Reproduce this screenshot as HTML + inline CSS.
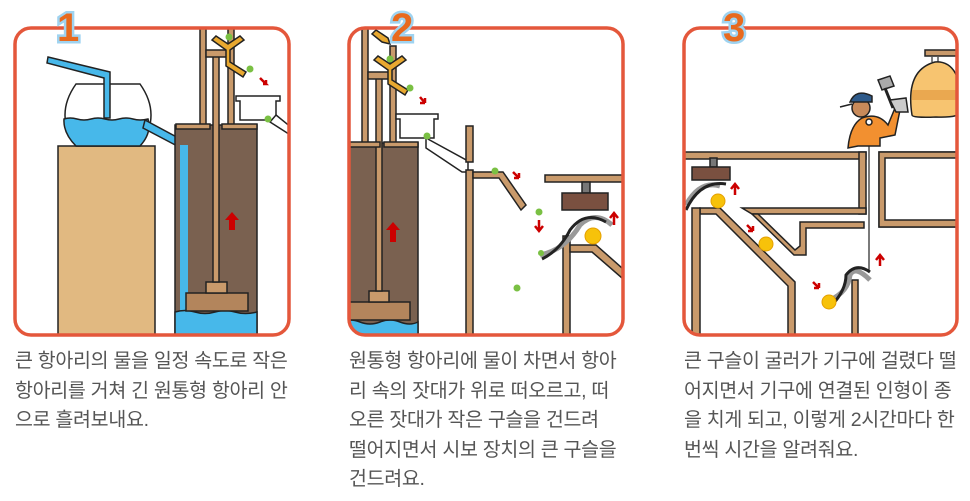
<!DOCTYPE html>
<html><head><meta charset="utf-8"><style>
body{margin:0;width:970px;height:501px;background:#fff;position:relative;overflow:hidden}
.t{position:absolute;font-family:"Liberation Sans","Noto Sans CJK KR",sans-serif;font-size:19.5px;line-height:29.5px;color:#555;white-space:nowrap;letter-spacing:-0.3px}
svg{position:absolute;left:0;top:0}
</style></head><body>
<svg width="970" height="501" viewBox="0 0 970 501">
<defs>
<clipPath id="c1"><rect x="15" y="28" width="274" height="307" rx="16"/></clipPath>
<clipPath id="c2"><rect x="349" y="28" width="274" height="307" rx="16"/></clipPath>
<clipPath id="c3"><rect x="684" y="28" width="273" height="307" rx="16"/></clipPath>
</defs>
<!-- PANEL 1 -->
<g clip-path="url(#c1)" stroke="#222" stroke-width="1.5">
 <rect x="58" y="146" width="97" height="195" fill="#e1b981"/>
 <path d="M76 84 L140 84 Q162 115 140 146 L76 146 Q54 115 76 84Z" fill="#fff"/>
 <path d="M64 119 Q70 117 77 119 Q84 121 91 119 Q98 117 105 119 Q112 121 119 119 Q126 117 133 119 Q140 121 148 119 Q152 133 140 146 L76 146 Q63 133 64 119Z" fill="#47b8ea"/>
 <path d="M48 57 L110 72 L110 118 L104 118 L104 78 L47 63Z" fill="#47b8ea"/>
 <path d="M145 120 L184 141 L181 148 L143 128Z" fill="#47b8ea"/>
 <rect x="175" y="125" width="82" height="215" fill="#7a6150"/>
 <rect x="180" y="145" width="8" height="170" fill="#47b8ea" stroke="none"/>
 <path d="M175 312 Q185 309 195 312 Q205 315 215 312 Q225 309 235 312 Q245 315 257 312 L257 340 L175 340Z" fill="#47b8ea"/>
 <rect x="186" y="293" width="62" height="18" fill="#b3855c"/>
 <rect x="206" y="282" width="21" height="11" fill="#c99a6b"/>
 <rect x="213" y="55" width="6" height="227" fill="#c99a6b"/>
 <rect x="200" y="28" width="6" height="97" fill="#c99a6b"/>
 <rect x="228" y="28" width="6" height="97" fill="#c99a6b"/>
 <rect x="206" y="50" width="22" height="7" fill="#c99a6b"/>
 <rect x="176" y="124" width="34" height="5" fill="#c99a6b"/>
 <rect x="222" y="124" width="35" height="5" fill="#c99a6b"/>
 <path d="M236 96 L280 96 L280 101 L276 101 L276 120 L240 120 L240 101 L236 101Z" fill="#fff"/>
 <path d="M276 115 L292 128 L292 136 L270 122Z" fill="#fff"/>
 <path d="M216 36 L228 44 L240 36 L244 40 L230 50 L230 62 L246 72 L243 77 L226 66 L226 50 L212 40Z" fill="#e8a830"/>
</g>
<g fill="#7ac043"><circle cx="229" cy="37" r="3.5"/><circle cx="250" cy="69" r="3.5"/><circle cx="268" cy="119" r="3.5"/></g>
<path d="M260 78 L266 84 L263 84 M266 84 L266 80" stroke="#c00" stroke-width="2.5" fill="none"/>
<path d="M232 212 L239 220 L235 220 L235 230 L229 230 L229 220 L225 220Z" fill="#c00"/>
<rect x="15" y="28" width="274" height="307" rx="16" fill="none" stroke="#e4573b" stroke-width="3.5"/>
<!-- PANEL 2 -->
<g clip-path="url(#c2)" stroke="#222" stroke-width="1.5">
 <rect x="340" y="143" width="78" height="200" fill="#7a6150"/>
 <path d="M340 322 Q350 318 360 322 Q370 326 380 322 Q390 318 400 322 Q410 326 418 322 L418 340 L340 340Z" fill="#47b8ea"/>
 <rect x="340" y="302" width="70" height="18" fill="#b3855c"/>
 <rect x="369" y="291" width="20" height="11" fill="#c99a6b"/>
 <rect x="376" y="78" width="6" height="213" fill="#c99a6b"/>
 <rect x="362" y="28" width="6" height="115" fill="#c99a6b"/>
 <rect x="390" y="46" width="6" height="97" fill="#c99a6b"/>
 <rect x="368" y="72" width="22" height="7" fill="#c99a6b"/>
 <rect x="340" y="142" width="40" height="5" fill="#c99a6b"/>
 <rect x="384" y="142" width="34" height="5" fill="#c99a6b"/>
 <path d="M396 114 L438 114 L438 119 L434 119 L434 138 L400 138 L400 119 L396 119Z" fill="#fff"/>
 <path d="M426 138 L468 161 L468 172 L462 172 L426 148Z" fill="#fff"/>
 <rect x="466" y="126" width="7" height="36" fill="#c99a6b"/>
 <rect x="466" y="170" width="7" height="170" fill="#c99a6b"/>
 <path d="M473 172 L503 172 L526 205 L521 210 L499 178 L473 178Z" fill="#c99a6b"/>
 <rect x="545" y="175" width="85" height="7" fill="#c99a6b"/>
 <rect x="582" y="182" width="8" height="11" fill="#777"/>
 <rect x="562" y="193" width="46" height="17" fill="#7a5040"/>
 <rect x="563" y="236" width="7" height="110" fill="#c99a6b"/>
 <path d="M570 245 L596 245 L630 275 L630 285 L592 252 L570 252Z" fill="#c99a6b"/>
 <path d="M540 255 Q565 250 580 225 Q595 210 612 225" stroke="#999" stroke-width="5" fill="none"/>
 <path d="M542 259 Q560 250 570 230 Q585 210 606 222" stroke="#222" stroke-width="3" fill="none"/>
 <path d="M376 30 L388 38 L390 44 L382 42 L372 34Z" fill="#e8a830"/>
 <path d="M378 56 L390 64 L402 56 L406 60 L392 70 L392 80 L408 90 L405 95 L388 84 L388 70 L374 60Z" fill="#e8a830"/>
</g>
<g fill="#7ac043"><circle cx="390" cy="59" r="3.5"/><circle cx="410" cy="88" r="3.5"/><circle cx="427" cy="136" r="3.5"/><circle cx="495" cy="171" r="3.5"/><circle cx="539" cy="212" r="3.5"/><circle cx="517" cy="288" r="3.5"/><circle cx="541" cy="253" r="3"/></g>
<circle cx="593" cy="236" r="8" fill="#f7c20a" stroke="#e5a000"/>
<g stroke="#c00" stroke-width="2.5" fill="none">
<path d="M420 97 L425 103 M425 103 L425 98 M425 103 L420 103"/>
<path d="M513 172 L519 178 M519 178 L519 173 M519 178 L514 178"/>
<path d="M539 220 L539 230 M535 226 L539 231 L543 226"/>
<path d="M614 225 L614 214 M610 218 L614 213 L618 218"/>
</g>
<path d="M393 222 L400 230 L396 230 L396 242 L390 242 L390 230 L386 230Z" fill="#c00"/>
<rect x="349" y="28" width="274" height="307" rx="16" fill="none" stroke="#e4573b" stroke-width="3.5"/>
<!-- PANEL 3 -->
<g clip-path="url(#c3)" stroke="#222" stroke-width="1.5">
 <rect x="680" y="152" width="186" height="7" fill="#c99a6b"/>
 <rect x="859" y="152" width="7" height="62" fill="#c99a6b"/>
 <path d="M742 208 L866 208 L866 214 L752 214Z" fill="#c99a6b"/>
 <rect x="879" y="152" width="85" height="75" fill="#fff"/>
 <path d="M879 152 L964 152 L964 158 L885 158 L885 220 L964 220 L964 227 L879 227Z" fill="#c99a6b"/>
 <path d="M758 214 L795 250 L800 246 L800 222 L864 222 L864 228 L806 228 L806 255 L794 255 L752 214Z" fill="#c99a6b"/>
 <path d="M700 208 L720 208 L795 282 L795 340 L788 340 L788 286 L716 214 L700 214Z" fill="#c99a6b"/>
 <rect x="692" y="208" width="8" height="135" fill="#c99a6b"/>
 <rect x="710" y="158" width="7" height="9" fill="#777"/>
 <rect x="692" y="167" width="38" height="13" fill="#7a5040"/>
 <path d="M686 205 Q700 180 720 186" stroke="#999" stroke-width="5" fill="none"/>
 <path d="M686 210 Q700 180 726 184" stroke="#222" stroke-width="3" fill="none"/>
 <rect x="852" y="280" width="6" height="60" fill="#c99a6b"/>
 <line x1="869" y1="122" x2="869" y2="270" stroke="#222" stroke-width="1.2"/>
 <path d="M830 300 Q848 292 850 275 Q855 265 870 280" stroke="#999" stroke-width="5" fill="none"/>
 <path d="M832 305 Q846 290 846 275 Q856 262 870 272" stroke="#222" stroke-width="3" fill="none"/>
 <rect x="925" y="50" width="40" height="6" fill="#c99a6b"/>
 <path d="M932 56 L932 62 M938 56 L938 62" stroke="#555"/>
 <path d="M912 115 Q905 70 935 62 Q962 60 962 110 Q962 118 936 117 Q912 118 912 115Z" fill="#f7c470"/>
 <path d="M912 90 L962 90 L962 100 L912 100Z" fill="#eaa850" stroke="none"/>
 <path d="M858 146 L848 148 Q850 125 862 118 Q878 112 888 125 L895 108 L900 110 L895 135 L880 138 L880 146Z" fill="#f29030"/>
 <circle cx="861" cy="108" r="9" fill="#c88a5a"/>
 <path d="M850 102 Q856 88 872 96 L872 102Z M840 107 L852 104" fill="#2e5a8a"/>
 <path d="M878 80 L890 76 L894 86 L882 90Z" fill="#aaa"/>
 <line x1="885" y1="88" x2="893" y2="108" stroke-width="3"/>
 <path d="M890 100 L906 98 L908 112 L896 112Z" fill="#ccc"/>
 <circle cx="869" cy="122" r="3" fill="#fff"/>
</g>
<g fill="#f7c20a" stroke="#e5a000"><circle cx="718" cy="201" r="7"/><circle cx="766" cy="244" r="7"/><circle cx="829" cy="302" r="7"/></g>
<g stroke="#c00" stroke-width="2.5" fill="none">
<path d="M735 195 L735 186 M731 189 L735 184 L739 189"/>
<path d="M747 225 L753 231 M753 231 L753 226 M753 231 L748 231"/>
<path d="M813 282 L819 288 M819 288 L819 283 M819 288 L814 288"/>
<path d="M880 266 L880 257 M876 260 L880 255 L884 260"/>
</g>
<rect x="684" y="28" width="273" height="307" rx="16" fill="none" stroke="#e4573b" stroke-width="3.5"/>
<g font-family="Liberation Sans,sans-serif" font-weight="bold" font-size="40" fill="#e86a1e" stroke="#9fd3f0" stroke-width="5" paint-order="stroke">
<text x="57" y="41">1</text><text x="391" y="41">2</text><text x="723" y="41">3</text>
</g>
</svg>
<div class="t" style="left:15px;top:347px">큰 항아리의 물을 일정 속도로 작은<br>항아리를 거쳐 긴 원통형 항아리 안<br>으로 흘려보내요.</div>
<div class="t" style="left:349px;top:347px">원통형 항아리에 물이 차면서 항아<br>리 속의 잣대가 위로 떠오르고, 떠<br>오른 잣대가 작은 구슬을 건드려<br>떨어지면서 시보 장치의 큰 구슬을<br>건드려요.</div>
<div class="t" style="left:684px;top:347px">큰 구슬이 굴러가 기구에 걸렸다 떨<br>어지면서 기구에 연결된 인형이 종<br>을 치게 되고, 이렇게 2시간마다 한<br>번씩 시간을 알려줘요.</div>
</body></html>
